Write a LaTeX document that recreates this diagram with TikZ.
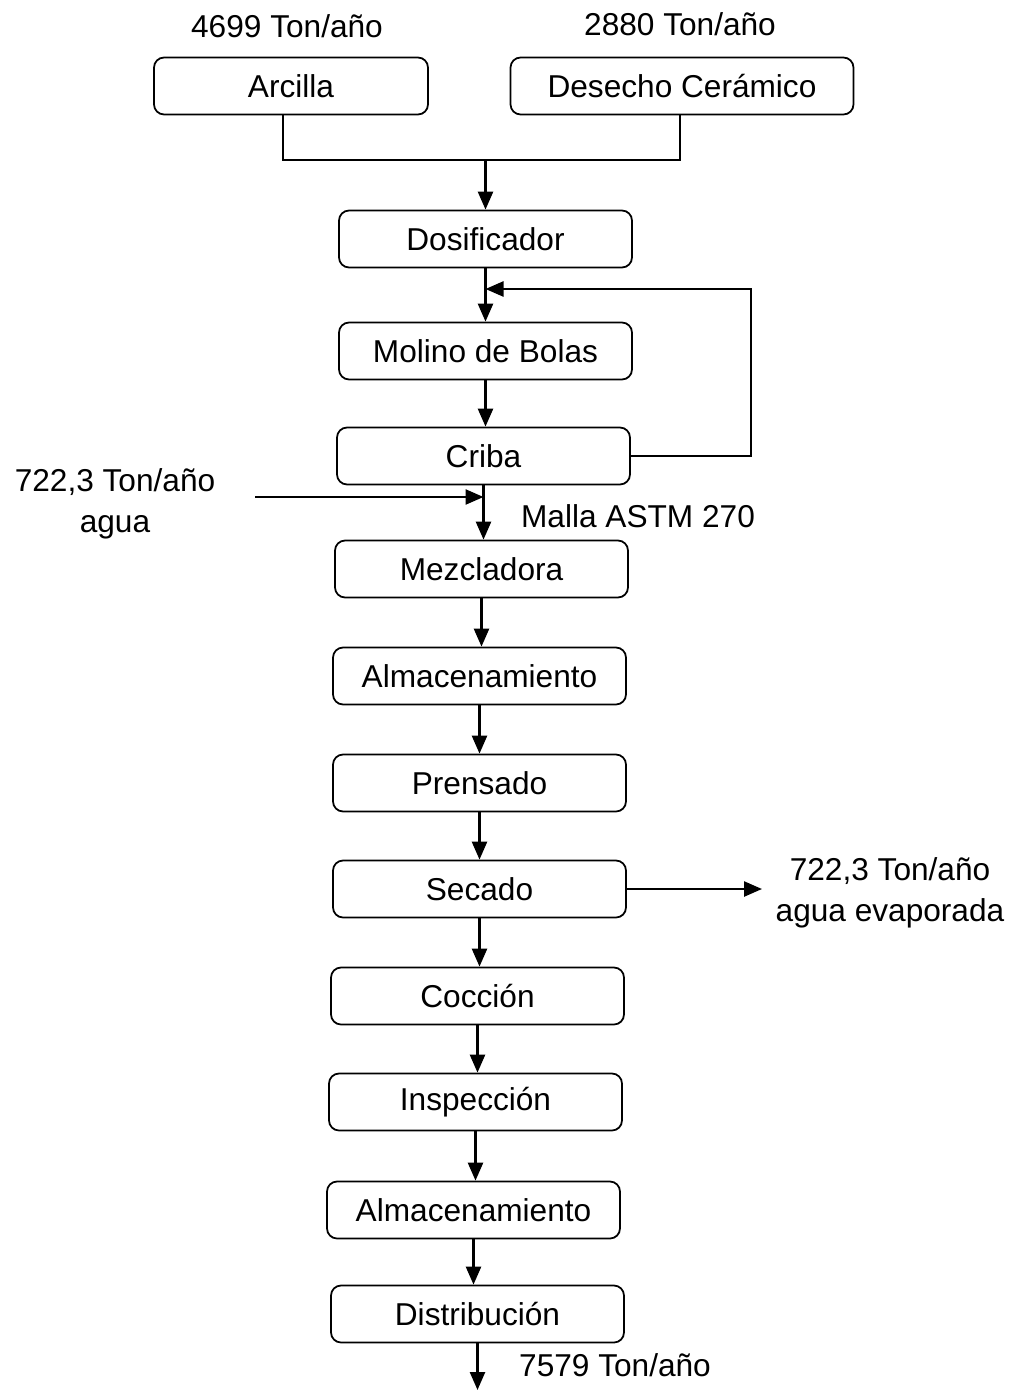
\documentclass[tikz,border=0pt]{standalone}
\usepackage{fontspec}
\setmainfont{Liberation Sans}
\usetikzlibrary{arrows.meta}

\tikzset{
  proc/.style={draw, rounded corners=0.2cm, line width=1pt,
    minimum width=5.86cm, minimum height=1.14cm, inner sep=0pt},
  flow/.style={line width=1.4pt, -{Triangle[length=0.36cm, width=0.3cm]}},
  feed/.style={line width=1.4pt},
  tag/.style={align=center, inner sep=0pt}
}

\begin{document}
\begin{tikzpicture}[x=0.02cm, y=-0.02cm, font=\fontsize{18}{23}\selectfont]
    \useasboundingbox (0,0) rectangle (1012,1392);

    % Raw materials
    \node[proc, minimum width=5.48cm] (arc) at (291,86) {Arcilla};
    \node[proc, minimum width=6.86cm] (des) at (682,86) {Desecho Cerámico};
    \node[tag] (qarc) at (287,26) {4699 Ton/año};
    \node[tag] (qdes) at (680,24) {2880 Ton/año};

    % Process chain
    \node[proc] (dos) at (485.5,239) {Dosificador};
    \node[proc] (mol) at (485.5,351) {Molino de Bolas};
    \node[proc] (cri) at (483.5,456) {Criba};
    \node[proc] (mez) at (481.5,569) {Mezcladora};
    \node[proc] (al1) at (479.5,676) {Almacenamiento};
    \node[proc] (pre) at (479.5,783) {Prensado};
    \node[proc] (sec) at (479.5,889) {Secado};
    \node[proc] (coc) at (477.5,996) {Cocción};
    \node[proc] (ins) at (475.5,1102) {Inspección};
    \node[proc] (al2) at (473.5,1210) {Almacenamiento};
    \node[proc] (dis) at (477.5,1314) {Distribución};

    % Side streams
    \node[tag] (qagua) at (115,504) {722,3 Ton/año\\agua};
    \node[tag] (malla) at (638,516) {Malla ASTM 270};
    \node[tag] (qevap) at (890,893) {722,3 Ton/año\\agua evaporada};
    \node[tag] (qout) at (615,1365) {7579 Ton/año};

    \coordinate (mrg) at (dos.north |- 0,160);
    \coordinate (ret) at (dos.south |- 0,289);
    \coordinate (win) at (255,497);
    \coordinate (wj) at (cri.south |- win);
    \coordinate (vap) at (762,889);
    \coordinate (fin) at (dis.south |- 0,1390);

    % Connections
    \draw[feed] ([xshift=-4.5pt]arc.south) |- (mrg) -| ([xshift=-1pt]des.south);
    \draw[flow] (mrg) -- (dos.north);
    \foreach \a/\b in {dos/mol, mol/cri, cri/mez, mez/al1, al1/pre,
                       pre/sec, sec/coc, coc/ins, ins/al2, al2/dis} {
        \draw[flow] (\a.south) -- (\a.south |- \b.north);
    }
    \draw[flow] (cri.east) -- ++(120,0) |- (ret);
    \draw[flow] (win) -- (wj);
    \draw[flow] (sec.east) -- (vap);
    \draw[flow] (dis.south) -- (fin);
\end{tikzpicture}
\end{document}
